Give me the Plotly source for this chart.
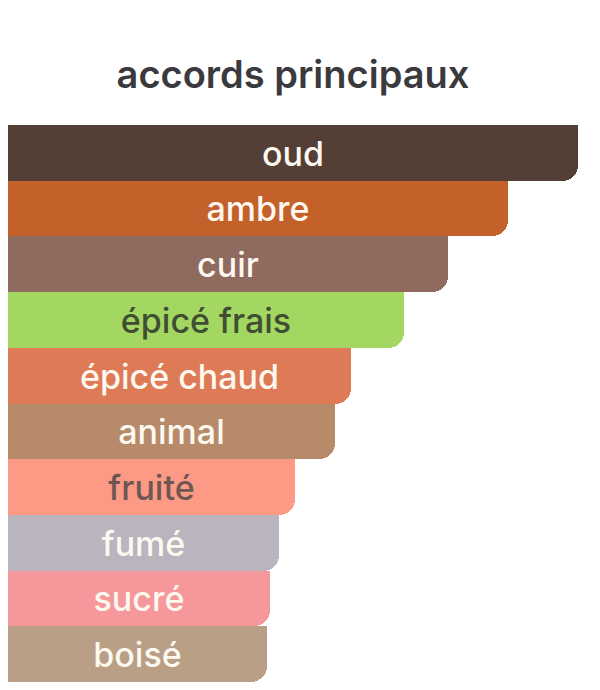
import plotly.graph_objects as go

# main accords, top to bottom
accords = ["oud", "ambre", "cuir", "épicé frais", "épicé chaud",
           "animal", "fruité", "fumé", "sucré", "boisé"]
strength = [100, 87.7, 77.2, 69.4, 60.2, 57.4, 50.3, 47.6, 45.9, 45.5]
bar_colors = ["#533f36", "#c4602a", "#8f6a5f", "#a3d762", "#df7a56",
              "#b78b6a", "#fc9a86", "#bab4bf", "#f5979b", "#b89f85"]
label_colors = ["#fdf8f0", "#fdf8f0", "#fdf8f0", "#3f4d33", "#fdf8f0",
                "#fdf8f0", "#6e5753", "#fdf8f0", "#fdf8f0", "#fdf8f0"]

fig = go.Figure()

# square top half, so only the bottom-right corner ends up rounded
fig.add_trace(
    go.Bar(
        y=accords,
        x=strength,
        orientation="h",
        width=0.5,
        offset=-0.5,
        marker=dict(color=bar_colors, line_width=0),
        hoverinfo="skip",
    )
)
fig.add_trace(
    go.Bar(
        y=accords,
        x=strength,
        orientation="h",
        width=1,
        marker=dict(color=bar_colors, line_width=0, cornerradius=16),
        text=accords,
        textposition="inside",
        insidetextanchor="middle",
        textangle=0,
        constraintext="none",
        textfont=dict(family="Inter", size=34, weight=500, color=label_colors),
        hoverinfo="skip",
    )
)

fig.update_layout(
    width=600,
    height=690,
    barmode="overlay",
    bargap=0,
    showlegend=False,
    paper_bgcolor="white",
    plot_bgcolor="white",
    margin=dict(l=0, r=30, t=117, b=16),
    title=dict(
        text="accords principaux",
        x=0.5,
        xref="paper",
        xanchor="center",
        y=1 - 67 / 690,
        yref="container",
        yanchor="middle",
        font=dict(family="Inter", size=38, weight=600, color="#3a3a3e"),
    ),
    xaxis=dict(range=[0, 100], visible=False, fixedrange=True),
    yaxis=dict(autorange="reversed", visible=False, fixedrange=True),
)

fig.write_html("out.html")
